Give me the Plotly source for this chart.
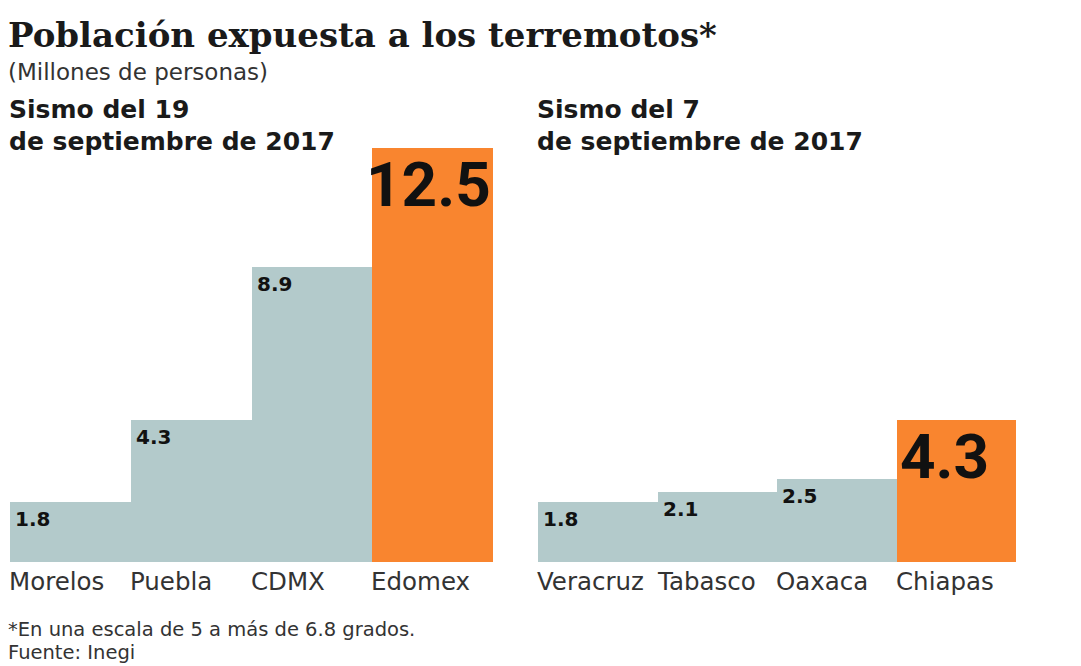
import plotly.graph_objects as go

W, H = 1081, 666

cats_19 = ["Morelos", "Puebla", "CDMX", "Edomex"]
vals_19 = [1.8, 4.3, 8.9, 12.5]
cats_7 = ["Veracruz", "Tabasco", "Oaxaca", "Chiapas"]
vals_7 = [1.8, 2.1, 2.5, 4.3]

title = "Población expuesta a los terremotos*"
subtitle = "(Millones de personas)"
panel_19 = ["Sismo del 19", "de septiembre de 2017"]
panel_7 = ["Sismo del 7", "de septiembre de 2017"]
footnote = ["*En una escala de 5 a más de 6.8 grados.", "Fuente: Inegi"]

GRAY = "#b3cacb"
ORANGE = "#f9852f"
DARK = "#1a1a1a"
SANS = "DejaVu Sans"


def fx(px):
    return px / W


def fy(py):
    return 1 - py / H


def colors(vals):
    m = max(vals)
    return [ORANGE if v == m else GRAY for v in vals]


fig = go.Figure()
fig.add_trace(go.Bar(x=cats_19, y=vals_19, marker=dict(color=colors(vals_19), line=dict(width=0)),
                     xaxis="x", yaxis="y", hoverinfo="skip"))
fig.add_trace(go.Bar(x=cats_7, y=vals_7, marker=dict(color=colors(vals_7), line=dict(width=0)),
                     xaxis="x2", yaxis="y", hoverinfo="skip"))

ann = []
for xref, cats, vals, bshift in (("x", cats_19, vals_19, -4), ("x2", cats_7, vals_7, -12)):
    m = max(vals)
    for i, (c, v) in enumerate(zip(cats, vals)):
        ann.append(dict(x=i - 0.5, y=0, xref=xref, yref="y", text=c, showarrow=False,
                        xanchor="left", yanchor="top", xshift=-3, yshift=-3,
                        font=dict(family=SANS, size=24.5, color="#333333")))
        if v == m:
            ann.append(dict(x=i, y=v, xref=xref, yref="y", text=f"{v}", showarrow=False,
                            xanchor="center", yanchor="top", xshift=bshift, yshift=2,
                            font=dict(family="Roboto", size=62,
                                      color="#111111", weight="bold")))
        else:
            ann.append(dict(x=i - 0.5, y=v, xref=xref, yref="y", text=f"{v}", showarrow=False,
                            xanchor="left", yanchor="top", xshift=3, yshift=-3,
                            font=dict(family=SANS, size=20, color="#111111", weight="bold")))


def txt(px, py, text, font):
    return dict(x=fx(px), y=fy(py), xref="paper", yref="paper", text=text, showarrow=False,
                xanchor="left", yanchor="middle", font=font)


ann += [
    txt(6, 35, title, dict(family="DejaVu Serif", size=34, color=DARK, weight="bold")),
    txt(6, 72, subtitle, dict(family=SANS, size=23, color="#333333")),
    txt(7, 109, panel_19[0], dict(family=SANS, size=25, color=DARK, weight="bold")),
    txt(7, 141, panel_19[1], dict(family=SANS, size=25, color=DARK, weight="bold")),
    txt(535, 109, panel_7[0], dict(family=SANS, size=25, color=DARK, weight="bold")),
    txt(535, 141, panel_7[1], dict(family=SANS, size=25, color=DARK, weight="bold")),
    txt(6, 629, footnote[0], dict(family=SANS, size=19.5, color="#333333")),
    txt(6, 652, footnote[1], dict(family=SANS, size=19.5, color="#333333")),
]

fig.update_layout(
    width=W, height=H,
    margin=dict(l=0, r=0, t=0, b=0),
    paper_bgcolor="white", plot_bgcolor="white",
    showlegend=False, bargap=0,
    xaxis=dict(domain=[fx(10), fx(493)], range=[-0.5, 3.5], showticklabels=False, showgrid=False,
               zeroline=False, showline=False, ticks="", fixedrange=True),
    xaxis2=dict(domain=[fx(538), fx(1016)], range=[-0.5, 3.5], showticklabels=False, showgrid=False,
                zeroline=False, showline=False, ticks="", fixedrange=True, anchor="y"),
    yaxis=dict(domain=[fy(562), fy(148)], range=[0, 12.5], showticklabels=False,
               showgrid=False, zeroline=False, showline=False, ticks="", fixedrange=True),
    annotations=ann,
)

fig.write_html("out.html", config={"displayModeBar": False},
               post_script="document.body.style.margin='0px';document.body.style.overflow='hidden';")
